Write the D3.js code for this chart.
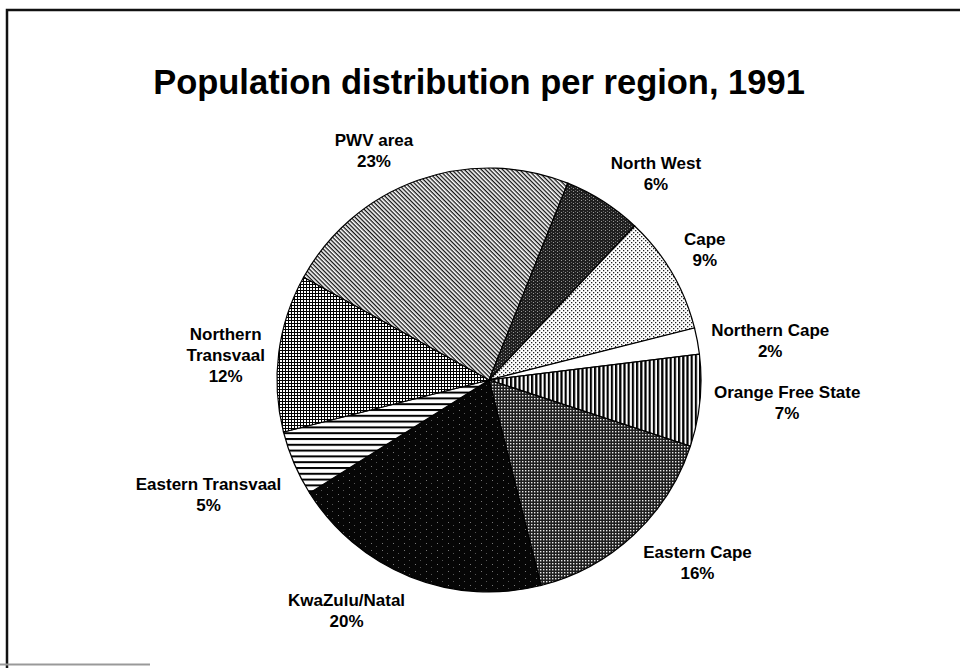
<!DOCTYPE html>
<html>
<head>
<meta charset="utf-8">
<script src="https://cdn.jsdelivr.net/npm/d3@7"></script>
<style>
  body { margin: 0; background: #fff; }
  svg { display: block; font-family: "Liberation Sans", Arial, sans-serif; }
</style>
</head>
<body>
<div id="chart"></div>
<script>
// datos del grafico
const titulo = "Population distribution per region, 1991";
const regiones = ["PWV area", "North West", "Cape", "Northern Cape", "Orange Free State",
                  "Eastern Cape", "KwaZulu/Natal", "Eastern Transvaal", "Northern\nTransvaal"];
const porcentajes = [23, 6, 9, 2, 7, 16, 20, 5, 12];

// tramas de relleno, una por region (mismo orden)
const tramas = ["diag", "oscuro", "puntos", "blanco", "vert", "cuadros", "negro", "horiz", "rejilla"];
// pequeño ajuste vertical de cada etiqueta (px), como las coloca Excel
const ajusteEtiq = [0, 0, 0, 8, -3, 0, 4, 12, 11];

const width = 960, height = 668;
const cx = 489, cy = 380, radius = 212;

const svg = d3.select("#chart").append("svg")
  .attr("width", width)
  .attr("height", height);

const defs = svg.append("defs");
const pat = (id, w, h, bg) => {
  const p = defs.append("pattern").attr("id", id)
    .attr("patternUnits", "userSpaceOnUse")
    .attr("width", w).attr("height", h);
  p.append("rect").attr("width", w).attr("height", h).attr("fill", bg);
  return p;
};

// diagonal descendente fina
let p = pat("diag", 4, 3, "#fff").attr("patternTransform", "rotate(45)");
p.append("rect").attr("width", 4).attr("height", 1.3).attr("fill", "#111");
// gris muy oscuro con textura
p = pat("oscuro", 4, 3, "#1f1f1f");
p.append("rect").attr("x", 0).attr("y", 0).attr("width", 1).attr("height", 1).attr("fill", "#999");
p.append("rect").attr("x", 2).attr("y", 2).attr("width", 1).attr("height", 1).attr("fill", "#666");
// puntos claros
p = pat("puntos", 4, 4, "#fff");
p.append("rect").attr("x", 0).attr("y", 0).attr("width", 1.3).attr("height", 1.3).attr("fill", "#222");
p.append("rect").attr("x", 2).attr("y", 2).attr("width", 1.3).attr("height", 1.3).attr("fill", "#222");
pat("blanco", 4, 4, "#fff");
// lineas verticales
p = pat("vert", 4.2, 4, "#fff");
p.append("rect").attr("width", 2.2).attr("height", 4).attr("fill", "#000");
// cuadriculado oscuro
p = pat("cuadros", 3, 3, "#1e1e1e");
p.append("rect").attr("x", 0).attr("y", 0).attr("width", 1.4).attr("height", 1.4).attr("fill", "#e8e8e8");
// casi negro con motas
p = pat("negro", 11, 7, "#060606");
p.append("rect").attr("x", 3).attr("y", 2).attr("width", 1).attr("height", 1).attr("fill", "#777");
p.append("rect").attr("x", 8).attr("y", 5).attr("width", 1).attr("height", 1).attr("fill", "#555");
// lineas horizontales
p = pat("horiz", 6, 5.8, "#fff");
p.append("rect").attr("width", 6).attr("height", 2).attr("fill", "#000");
// rejilla
p = pat("rejilla", 3, 3, "#fff");
p.append("path").attr("d", "M0,0.5 H3 M0.5,0 V3").attr("stroke", "#000").attr("stroke-width", 1);

// marco
svg.append("path")
  .attr("d", `M7,${height + 2} V10 H${width + 2}`)
  .attr("fill", "none").attr("stroke", "#111").attr("stroke-width", 2.5);
svg.append("line")
  .attr("x1", 0).attr("x2", 150).attr("y1", 664.5).attr("y2", 664.5)
  .attr("stroke", "#999").attr("stroke-width", 2);

// titulo
svg.append("text")
  .attr("x", 479).attr("y", 94)
  .attr("text-anchor", "middle")
  .style("font-size", "34.5px").style("font-weight", "bold")
  .text(titulo);

// pastel
const datos = regiones.map((r, i) => ({ region: r, valor: porcentajes[i], trama: tramas[i], dy: ajusteEtiq[i] }));
const a0 = -61 * Math.PI / 180;
const pie = d3.pie().value(d => d.valor).sort(null)
  .startAngle(a0).endAngle(a0 + 2 * Math.PI);
const arc = d3.arc().innerRadius(0).outerRadius(radius);
const arcos = pie(datos);

const g = svg.append("g").attr("transform", `translate(${cx},${cy})`);
g.selectAll("path")
  .data(arcos)
  .enter().append("path")
  .attr("d", arc)
  .attr("fill", d => `url(#${d.data.trama})`)
  .attr("stroke", "#000")
  .attr("stroke-width", 1.2);

// etiquetas fuera del pastel
const rEtiq = radius + 14, interlinea = 21, cap = 12.5;
arcos.forEach(d => {
  const a = (d.startAngle + d.endAngle) / 2;
  const s = Math.sin(a), c = Math.cos(a);
  const lineas = d.data.region.split("\n").concat([d.data.valor + "%"]);
  const t = g.append("text")
    .attr("text-anchor", "middle")
    .style("font-size", "17px").style("font-weight", "bold");
  lineas.forEach((l, i) => t.append("tspan").attr("x", 0).attr("y", i * interlinea).text(l));
  const w = d3.max(t.selectAll("tspan").nodes(), n => n.getComputedTextLength());
  const h = cap + (lineas.length - 1) * interlinea;
  const px = s * rEtiq, py = -c * rEtiq;
  const fx = Math.max(-1, Math.min(1, s * 3));
  const fy = Math.max(-1, Math.min(1, -c * 2));
  const mx = px + fx * w / 2, my = py + fy * h / 2 + d.data.dy;
  t.attr("transform", `translate(${mx},${my - h / 2 + cap})`);
});
</script>
</body>
</html>
